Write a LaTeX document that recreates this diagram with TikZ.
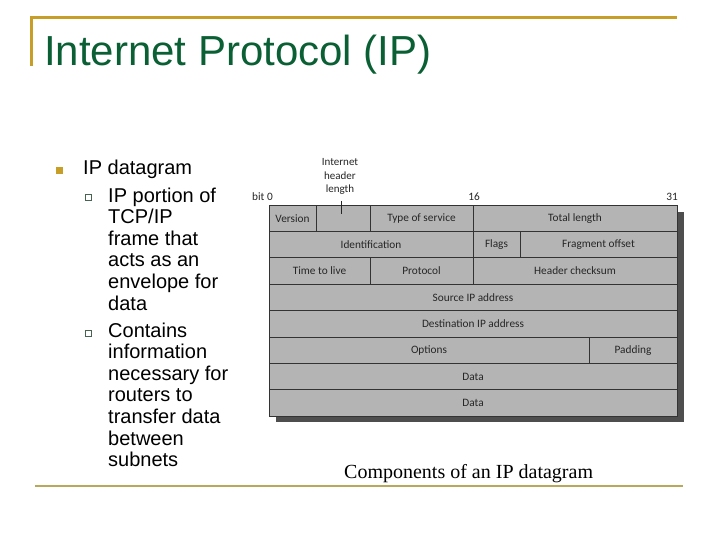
\documentclass[tikz,border=0pt]{standalone}
\usepackage{fontspec}
\setmainfont{Liberation Sans}
\newfontfamily\captionfnt{Liberation Serif}
\newfontfamily\fieldfnt{Carlito}
\definecolor{framegold}{RGB}{198,158,40}
\definecolor{rulegold}{RGB}{186,168,90}
\definecolor{titlegreen}{RGB}{10,96,52}
\definecolor{subbullet}{RGB}{70,100,80}
\definecolor{fieldgrey}{RGB}{180,180,180}
\definecolor{shadowgrey}{RGB}{78,78,78}

\begin{document}
\begin{tikzpicture}[x=1pt, y=-1pt, line join=miter,
    field/.style={draw=black!80, fill=fieldgrey, line width=0.9pt, inner sep=0pt,
      minimum height=26.4pt, text=black!85, font=\fieldfnt\fontsize{11.3}{13}\selectfont},
    bitlabel/.style={inner sep=0pt, anchor=base, text=black!85, font=\fieldfnt\fontsize{11.3}{13}\selectfont},
    bodytext/.style={inner sep=0pt, align=left, font=\fontsize{20}{21.6}\selectfont}]
  \useasboundingbox[fill=white] (0,0) rectangle (720,540);

  % slide frame and title
  \draw[framegold, line width=3pt] (31,66) -- (31,18) -- (677,18);
  \node[inner sep=0pt, anchor=base west, text=titlegreen, font=\fontsize{42}{46}\selectfont] (title) at (44,66) {Internet Protocol (IP)};
  \draw[rulegold, line width=2.5pt] (35,486) -- (683,486);

  % bullet text
  \node[fill=framegold, minimum size=7pt, inner sep=0pt] (bullet) at (59,170.5) {};
  \node[bodytext, anchor=base west] (item) at (83,175) {IP datagram};
  \node[draw=subbullet, line width=0.8pt, minimum size=6pt, inner sep=0pt] (subbullet-a) at (88.5,197.5) {};
  \node[bodytext, anchor=north west] (sub-a) at (108,187.4) {IP portion of\\TCP/IP\\frame that\\acts as an\\envelope for\\data};
  \node[draw=subbullet, line width=0.8pt, minimum size=6pt, inner sep=0pt] (subbullet-b) at (88.5,333) {};
  \node[bodytext, anchor=north west] (sub-b) at (108,322.4) {Contains\\information\\necessary for\\routers to\\transfer data\\between\\subnets};

  % datagram
  \fill[shadowgrey] (276,212) rectangle (684,422);
  \node[field, minimum width=47pt] (version) at (292.5,218.2) {Version};
  \node[field, minimum width=54pt] (ihl) at (343,218.2) {};
  \node[field, minimum width=103pt] (tos) at (421.5,218.2) {Type of service};
  \node[field, minimum width=204pt] (totlen) at (575,218.2) {Total length};
  \node[field, minimum width=204pt] (ident) at (371,244.6) {Identification};
  \node[field, minimum width=47pt] (flags) at (496.5,244.6) {Flags};
  \node[field, minimum width=157pt] (fragoff) at (598.5,244.6) {Fragment offset};
  \node[field, minimum width=101pt] (ttl) at (319.5,271) {Time to live};
  \node[field, minimum width=103pt] (proto) at (421.5,271) {Protocol};
  \node[field, minimum width=204pt] (checksum) at (575,271) {Header checksum};
  \node[field, minimum width=408pt] (srcaddr) at (473,297.4) {Source IP address};
  \node[field, minimum width=408pt] (dstaddr) at (473,323.8) {Destination IP address};
  \node[field, minimum width=320pt] (options) at (429,350.2) {Options};
  \node[field, minimum width=88pt] (padding) at (633,350.2) {Padding};
  \node[field, minimum width=408pt] (data-a) at (473,376.6) {Data};
  \node[field, minimum width=408pt] (data-b) at (473,403) {Data};

  % bit numbers and header length label
  \node[bitlabel, anchor=base west] (bit0) at (252,201) {bit 0};
  \node[bitlabel] (bit16) at (474,201) {16};
  \node[bitlabel, anchor=base east] (bit31) at (678,201) {31};
  \node[bitlabel, anchor=south, align=center, font=\fieldfnt\fontsize{11}{13.5}\selectfont] (ihl-label) at (340,195) {Internet\\header\\length};
  \coordinate (ihl-tick) at (341,214);
  \draw[black!85, line width=1pt] (ihl-label.south -| ihl-tick) ++(0,6) -- (ihl-tick);

  \node[inner sep=0pt, anchor=base west, font=\captionfnt\fontsize{20}{22}\selectfont] (caption) at (344,478) {Components of an IP datagram};
\end{tikzpicture}
\end{document}
